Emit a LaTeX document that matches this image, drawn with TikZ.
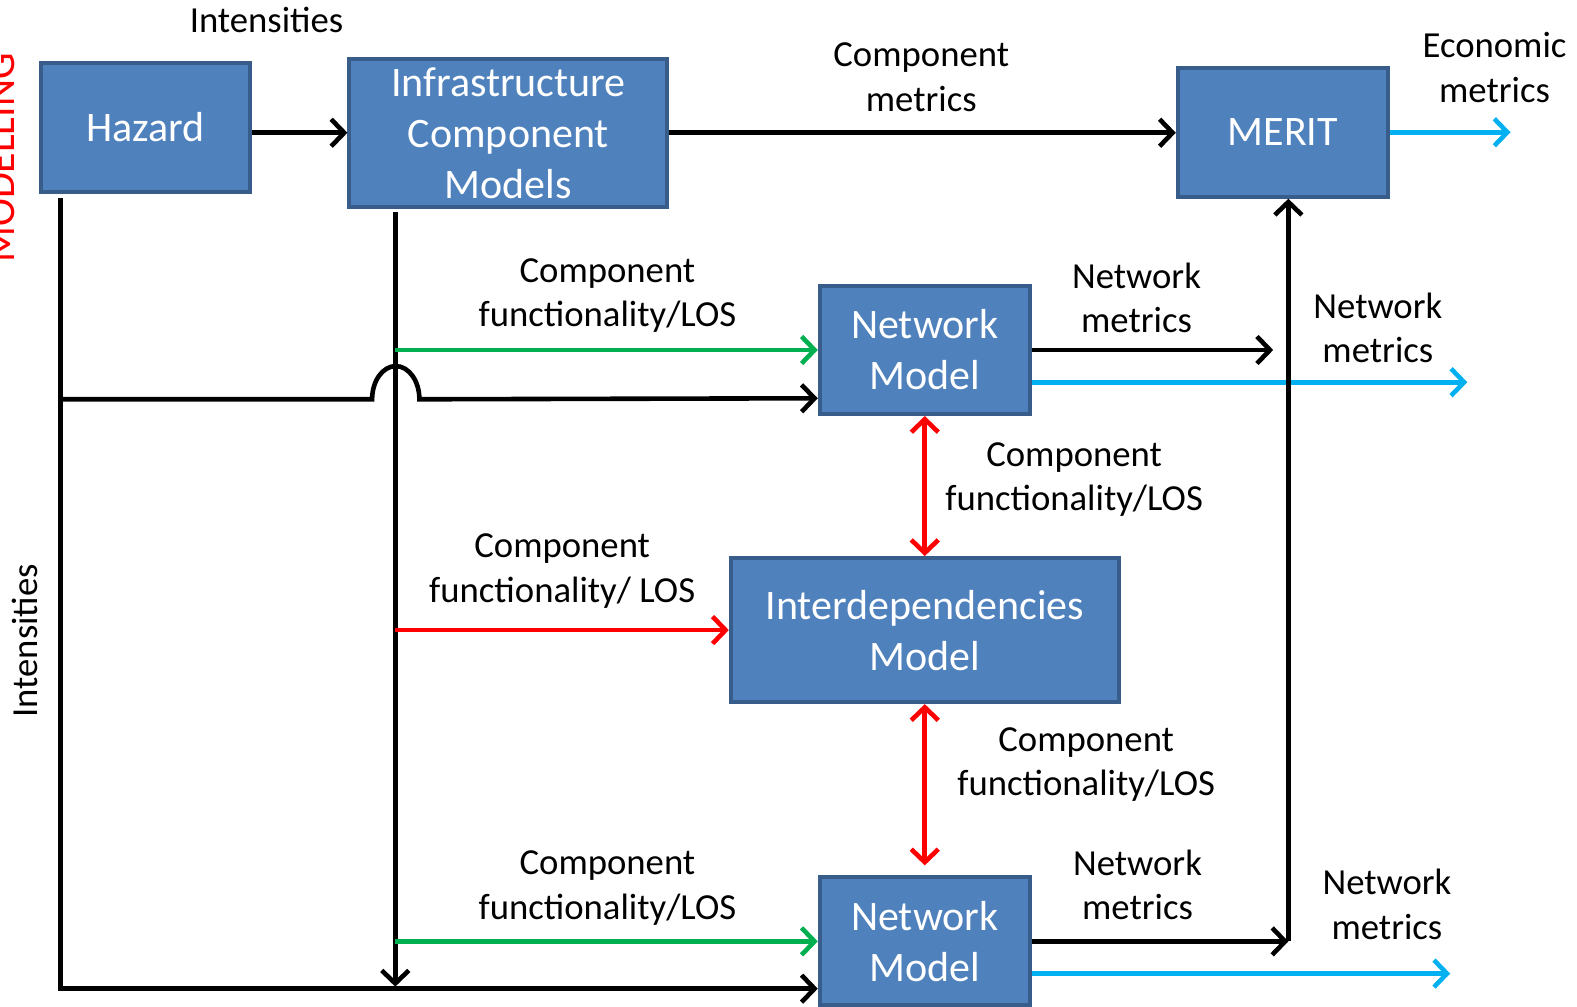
\documentclass[tikz,border=0pt]{standalone}
\usepackage{fontspec}
\setmainfont{Carlito}
\usetikzlibrary{arrows.meta}
\definecolor{boxfill}{HTML}{4F81BD}
\definecolor{boxline}{HTML}{385D8A}
\definecolor{cyanA}{HTML}{00B0F0}
\definecolor{greenA}{HTML}{00B050}
\definecolor{redA}{HTML}{FF0000}
\begin{document}
\begin{tikzpicture}[x=1.0057pt,y=-1.0057pt,
  box/.style={draw=boxline, fill=boxfill, line width=4pt, text=white,
    font=\fontsize{42}{51}\selectfont, align=center, inner sep=0pt},
  lbl/.style={font=\fontsize{36.7}{44.5}\selectfont, align=center, inner sep=0pt},
  arr/.style={line width=4.6pt, -{Straight Barb[length=13pt,width=27pt]}},
  dblarr/.style={line width=4.6pt, redA, {Straight Barb[length=13pt,width=27pt]}-{Straight Barb[length=13pt,width=27pt]}},
  arrG/.style={arr, greenA},
  arrR/.style={arr, redA},
  arrC/.style={arr, cyanA}]
\useasboundingbox (0,0) rectangle (1568,1001);
\clip (0,0) rectangle (1568,1001);
\fill[white] (0,0) rectangle (1568,1001);

% boxes
\node[box, minimum width=209pt, minimum height=129pt] (haz) at (144.5,126.5) {Hazard};
\node[box, minimum width=318pt, minimum height=148pt] (icm) at (505.5,132) {Infrastructure\\Component\\Models};
\node[box, minimum width=210pt, minimum height=129pt] (merit) at (1275.5,131.5) {MERIT};
\node[box, minimum width=210pt, minimum height=128pt] (nm1) at (919.5,348) {Network\\Model};
\node[box, minimum width=388pt, minimum height=144pt] (id) at (919.5,626.5) {Interdependencies\\Model};
\node[box, minimum width=210pt, minimum height=128pt] (nm2) at (919.5,936) {Network\\Model};

% labels
\node[lbl] (l1) at (265,20) {Intensities};
\node[lbl] (l2) at (916,77) {Component\\metrics};
\node[lbl] (l3) at (1486,67) {Economic\\metrics};
\node[lbl] (l4) at (604,294) {Component\\functionality/LOS};
\node[lbl] (l5) at (1130,296) {Network\\metrics};
\node[lbl] (l6) at (1370,326) {Network\\metrics};
\node[lbl] (l7) at (1068,477) {Component\\functionality/LOS};
\node[lbl] (l8) at (559,568) {Component\\functionality/ LOS};
\node[lbl] (l9) at (1080,760) {Component\\functionality/LOS};
\node[lbl] (l10) at (604,883) {Component\\functionality/LOS};
\node[lbl] (l11) at (1131,880) {Network\\metrics};
\node[lbl] (l12) at (1379,899) {Network\\metrics};
\node[lbl, rotate=90] (l13) at (25,637) {Intensities};
\node[lbl, rotate=90, anchor=base, text=redA, font=\fontsize{42}{44}\selectfont] (l14) at (14,157) {MODELLING};

% helper coordinates
\coordinate (hz0) at (60,197);
\coordinate (hz1) at (60,983);
\coordinate (hb) at (60,397);
\coordinate (hj) at (370,397);
\coordinate (y396) at (0,396);
\coordinate (iv0) at (393,211);
\coordinate (iv1) at (393,981);
\coordinate (mv) at (1281,936);

% connectors
\draw[arr] (haz.east |- icm.west) -- (icm.west);
\draw[arr] (icm.east) -- (merit.west |- icm.east);
\draw[arrC] (merit.east) -- ++(120,0);

\draw[arr] (hz0) -- (hz1) -- (nm2.west |- hz1);
\draw[arr] (hb) -- (hj) arc[start angle=180, end angle=360, x radius=23.5, y radius=33] -- (nm1.west |- y396);

\draw[arr] (iv0) -- (iv1);
\draw[arrG] (iv0 |- nm1.west) -- (nm1.west);
\draw[arrR] (iv0 |- id.west) -- (id.west);
\draw[arrG] (iv0 |- nm2.west) -- (nm2.west);

\draw[dblarr] (nm1.south) -- (id.north);
\draw[dblarr, shorten >=10pt] (id.south) -- (nm2.north);

\draw[arr] (nm1.east) -- ++(240,0);
\draw[arrC] ([yshift=-32.2pt]nm1.east) -- ++(433,0);

\draw[arr] (nm2.east) -- (mv);
\draw[arr] (mv) -- (mv |- merit.south);
\draw[arrC] ([yshift=-32.2pt]nm2.east) -- ++(416,0);
\end{tikzpicture}
\end{document}
